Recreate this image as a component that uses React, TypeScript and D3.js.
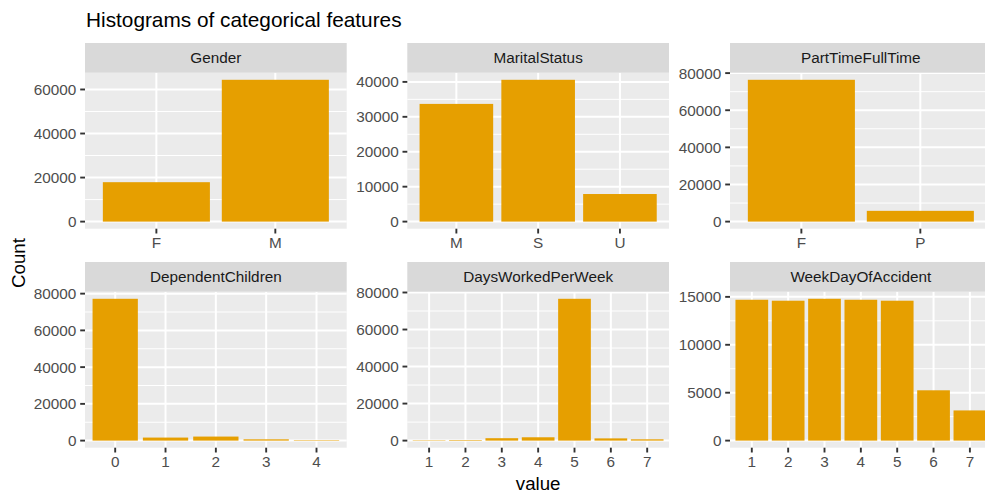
import React from "react";
import * as d3 from "d3";

// facet data (counts)
const genderCats = ["F", "M"];
const genderCounts = [17900, 64400];
const genderTicks = [0, 20000, 40000, 60000];

const maritalCats = ["M", "S", "U"];
const maritalCounts = [33700, 40600, 7900];
const maritalTicks = [0, 10000, 20000, 30000, 40000];

const partTimeCats = ["F", "P"];
const partTimeCounts = [76400, 5800];
const partTimeTicks = [0, 20000, 40000, 60000, 80000];

const childrenCats = ["0", "1", "2", "3", "4"];
const childrenCounts = [77200, 1650, 2200, 700, 250];
const childrenTicks = [0, 20000, 40000, 60000, 80000];

const daysCats = ["1", "2", "3", "4", "5", "6", "7"];
const daysCounts = [200, 300, 1300, 1800, 76600, 1200, 700];
const daysTicks = [0, 20000, 40000, 60000, 80000];

const weekdayCats = ["1", "2", "3", "4", "5", "6", "7"];
const weekdayCounts = [14700, 14600, 14800, 14700, 14600, 5250, 3150];
const weekdayTicks = [0, 5000, 10000, 15000];

const FONT = "'Liberation Sans', Arial, Helvetica, sans-serif";
const WIDTH = 985;
const HEIGHT = 496;
const COLS = [85, 407.3, 730];
const ROWS = [43, 262];
const PANEL_W = 261.7;
const STRIP_H = 29.7;
const PANEL_H = 156;
const TICK = 4.8;
const BAR = "#E69F00";

interface FacetProps {
  name: string;
  cats: string[];
  counts: number[];
  ticks: number[];
  x: number;
  y: number;
}

const Facet: React.FC<FacetProps> = ({ name, cats, counts, ticks, x, y }) => {
  const top = y + STRIP_H;
  const bottom = top + PANEL_H;
  const max = d3.max(counts) ?? 0;

  const yScale = d3
    .scaleLinear()
    .domain([-0.05 * max, 1.05 * max])
    .range([bottom, top]);

  // ggplot discrete: bars 0.9 wide, 0.6 expansion on each side
  const xScale = d3
    .scaleBand<string>()
    .domain(cats)
    .range([x, x + PANEL_W])
    .paddingInner(0.1)
    .paddingOuter(0.15);

  const step = ticks[1] - ticks[0];
  const [lo, hi] = yScale.domain();
  const minor = [ticks[0] - step, ...ticks]
    .map((t) => t + step / 2)
    .filter((t) => t > lo && t < hi && !ticks.includes(t));

  const cx = (c: string) => (xScale(c) ?? 0) + xScale.bandwidth() / 2;

  return (
    <g>
      <rect x={x} y={top} width={PANEL_W} height={PANEL_H} fill="#EBEBEB" />
      {minor.map((t) => (
        <line key={"mi" + t} x1={x} x2={x + PANEL_W} y1={yScale(t)} y2={yScale(t)} stroke="#fff" strokeWidth={1} />
      ))}
      {ticks.map((t) => (
        <line key={"ma" + t} x1={x} x2={x + PANEL_W} y1={yScale(t)} y2={yScale(t)} stroke="#fff" strokeWidth={2} />
      ))}
      {cats.map((c) => (
        <line key={"v" + c} x1={cx(c)} x2={cx(c)} y1={top} y2={bottom} stroke="#fff" strokeWidth={2} />
      ))}
      {cats.map((c, i) => (
        <rect
          key={"b" + c}
          x={xScale(c)}
          width={xScale.bandwidth()}
          y={yScale(counts[i])}
          height={yScale(0) - yScale(counts[i])}
          fill={BAR}
        />
      ))}

      <rect x={x} y={y} width={PANEL_W} height={STRIP_H} fill="#D9D9D9" />
      <text x={x + PANEL_W / 2} y={y + 20.3} textAnchor="middle" fontSize={15.3} fill="#1A1A1A">
        {name}
      </text>

      {ticks.map((t) => (
        <g key={"yt" + t}>
          <line x1={x - TICK} x2={x} y1={yScale(t)} y2={yScale(t)} stroke="#333" strokeWidth={1.9} />
          <text x={x - 8.6} y={yScale(t) + 5.4} textAnchor="end" fontSize={15.3} fill="#4D4D4D">
            {t}
          </text>
        </g>
      ))}
      {cats.map((c) => (
        <g key={"xt" + c}>
          <line x1={cx(c)} x2={cx(c)} y1={bottom} y2={bottom + TICK} stroke="#333" strokeWidth={1.9} />
          <text x={cx(c)} y={bottom + 19.5} textAnchor="middle" fontSize={15.3} fill="#4D4D4D">
            {c}
          </text>
        </g>
      ))}
    </g>
  );
};

export default function App() {
  const facets = [
    { name: "Gender", cats: genderCats, counts: genderCounts, ticks: genderTicks },
    { name: "MaritalStatus", cats: maritalCats, counts: maritalCounts, ticks: maritalTicks },
    { name: "PartTimeFullTime", cats: partTimeCats, counts: partTimeCounts, ticks: partTimeTicks },
    { name: "DependentChildren", cats: childrenCats, counts: childrenCounts, ticks: childrenTicks },
    { name: "DaysWorkedPerWeek", cats: daysCats, counts: daysCounts, ticks: daysTicks },
    { name: "WeekDayOfAccident", cats: weekdayCats, counts: weekdayCounts, ticks: weekdayTicks },
  ];

  return (
    <svg
      width={WIDTH}
      height={HEIGHT}
      style={{ position: "absolute", left: 0, top: 0, background: "#fff" }}
      fontFamily={FONT}
    >
      <rect width={WIDTH} height={HEIGHT} fill="#fff" />
      <text x={86} y={27.3} fontSize={20.8} fill="#000">
        Histograms of categorical features
      </text>
      {facets.map((f, i) => (
        <Facet key={f.name} {...f} x={COLS[i % 3]} y={ROWS[Math.floor(i / 3)]} />
      ))}
      <text
        transform={`translate(24.5, 263) rotate(-90)`}
        textAnchor="middle"
        fontSize={18.7}
        fill="#000"
      >
        Count
      </text>
      <text x={COLS[1] + PANEL_W / 2} y={489.5} textAnchor="middle" fontSize={18.7} fill="#000">
        value
      </text>
    </svg>
  );
}
